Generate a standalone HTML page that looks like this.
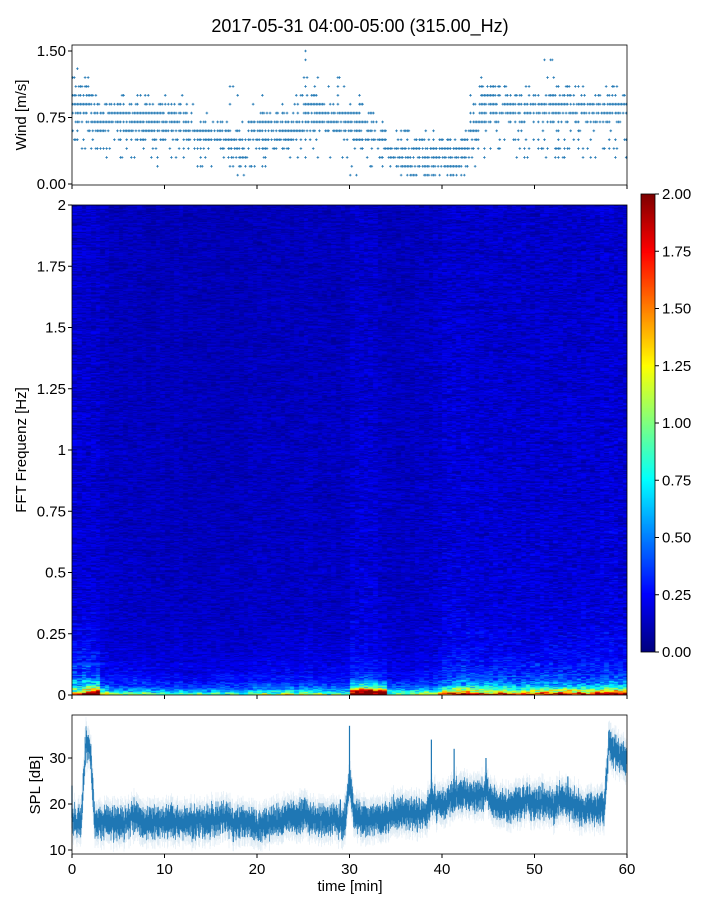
<!DOCTYPE html>
<html><head><meta charset="utf-8"><style>
body{margin:0;background:#fff;width:720px;height:900px;overflow:hidden;font-family:"Liberation Sans",sans-serif}
#wrap{position:relative;width:720px;height:900px}
svg{position:absolute;left:0;top:0}
canvas{position:absolute}
</style></head><body>
<div id="wrap">
<canvas id="spec" width="555" height="490" style="left:72px;top:205px"></canvas>
<canvas id="cbar" width="14" height="458" style="left:641px;top:194px"></canvas>
<svg id="svg" width="720" height="900"></svg>
</div>
<script>
// ---- data ----
const windMean=[0.9,0.9,0.8,0.75,0.75,0.7,0.7,0.7,0.7,0.7,0.7,0.65,0.6,0.55,0.55,0.55,0.5,0.4,0.35,0.55,0.6,0.6,0.6,0.6,0.65,0.8,0.8,0.75,0.75,0.75,0.7,0.65,0.6,0.45,0.35,0.35,0.3,0.3,0.3,0.3,0.3,0.3,0.4,0.6,0.9,0.9,0.95,0.85,0.85,0.85,0.85,0.85,0.8,0.85,0.85,0.85,0.85,0.85,0.85,0.85];
const windHi=[1.3,1.2,1.1,1.0,1.0,1.0,0.9,1.0,1.0,1.0,1.0,1.0,0.9,0.9,0.9,0.8,0.8,1.2,0.7,1.0,1.0,0.8,0.9,0.9,1.0,1.5,1.3,1.3,1.2,1.1,1.0,1.0,0.9,0.7,0.6,0.6,0.6,0.5,0.6,0.6,0.5,0.6,0.7,1.0,1.2,1.2,1.2,1.1,1.2,1.1,1.0,1.5,1.2,1.1,1.1,1.1,1.0,1.1,1.1,1.0];
const windLo=[0.5,0.4,0.3,0.3,0.3,0.3,0.3,0.2,0.3,0.2,0.3,0.3,0.3,0.2,0.2,0.2,0.2,0.1,0.1,0.2,0.2,0.3,0.3,0.3,0.3,0.3,0.3,0.3,0.2,0.3,0.1,0.3,0.2,0.2,0.1,0.1,0.1,0.1,0.1,0.1,0.1,0.1,0.1,0.2,0.3,0.4,0.4,0.4,0.3,0.3,0.4,0.3,0.3,0.3,0.4,0.3,0.3,0.3,0.2,0.3];
// SPL per half minute (t = 0, 0.5, ... 60)
const splMean=[17,15.5,16,33,32,16,16,16,16,16,16,16,16,17,18,16,16,16,16,16,16,16,16.5,16,16,16,16,16,16.5,16,16,16.5,16.5,17,17,16,16,16.5,16,16,15.5,15,15.5,15.5,16,16,16.5,17,17,17,17,18,17,16.5,16.5,17,16.5,16.5,16.5,16,16.5,25,18,17,17,16.5,17,17,16,17,17.5,18,17.5,18,18,18,18,18,18.5,21,20,20,20,21,22,22,22,21.5,22,22,22,23,21,20,19.5,19.5,19.5,20,20,20,21,20,20.5,20.5,20,20,19.5,21,21,20.5,20,19.5,19,19,19,19,19,19,33,31.5,30.5,30,29.5];
const splPeak=[24,19,19,36,35,20,20,19,19,19,19,19,19,20,22,19,19,19,19,19,19,19,19,19,19,19,19,20,19,19,19,19,19,20,20,20,19,19,19,20,19,18,18,18,18,19,19,19,19,21,20,19,20,21,20,19,20,21,20,21,19,37,22,21,21,20,21,20,19,21,21,21,21,21,22,21,22,21,22,34,24,23,23,23,32,26,25,25,25,24,25,30,24,24,23,23,23,24,23,23,25,24,24,24,23,23,23,25,25,26,24,23,23,23,22,22,22,22,37,34,33,32,31];
const lowBand=[1.0,1.6,2.4,1.0,0.7,0.7,0.7,0.8,0.7,0.6,0.6,0.6,0.55,0.6,0.55,0.6,0.6,0.55,0.55,0.7,0.8,0.7,0.7,0.8,0.7,0.8,0.7,0.7,0.6,0.6,2.4,2.6,2.5,2.2,0.7,0.7,0.7,0.75,0.8,0.9,1.3,1.5,1.6,1.3,1.3,1.2,1.3,1.1,1.0,1.2,1.1,1.3,1.2,1.5,1.3,1.2,1.3,1.5,1.9,1.5];
const midBand=[0.5,0.6,0.5,0.25,0.22,0.22,0.22,0.22,0.22,0.2,0.2,0.22,0.2,0.22,0.2,0.22,0.22,0.2,0.2,0.22,0.22,0.22,0.22,0.24,0.22,0.24,0.22,0.22,0.22,0.22,0.3,0.3,0.3,0.28,0.2,0.2,0.2,0.22,0.23,0.25,0.4,0.42,0.45,0.4,0.4,0.38,0.4,0.38,0.35,0.38,0.4,0.4,0.4,0.38,0.4,0.4,0.38,0.4,0.4,0.38];
const bgLevel=[0.15,0.15,0.15,0.13,0.12,0.12,0.12,0.12,0.11,0.12,0.11,0.12,0.11,0.11,0.11,0.11,0.11,0.11,0.11,0.12,0.12,0.12,0.12,0.12,0.12,0.13,0.12,0.12,0.12,0.12,0.15,0.15,0.15,0.13,0.12,0.12,0.12,0.13,0.13,0.14,0.16,0.16,0.16,0.15,0.15,0.15,0.15,0.15,0.15,0.15,0.15,0.15,0.15,0.15,0.15,0.15,0.15,0.16,0.16,0.15];
const timeTicks=[0,10,20,30,40,50,60];
const windTicks=[0,0.75,1.5], windTickLabels=["0.00","0.75","1.50"];
const freqTicks=[0,0.25,0.5,0.75,1,1.25,1.5,1.75,2], freqTickLabels=["0","0.25","0.5","0.75","1","1.25","1.5","1.75","2"];
const splTicks=[10,20,30], cbTicks=[0,0.25,0.5,0.75,1,1.25,1.5,1.75,2];

const NS="http://www.w3.org/2000/svg", svg=document.getElementById('svg');
function el(tag,attrs,parent){const e=document.createElementNS(NS,tag);for(const k in attrs)e.setAttribute(k,attrs[k]);(parent||svg).appendChild(e);return e;}
function txt(s,x,y,anchor,size,name,parent,rot){const t=el('text',{x:x,y:y,'text-anchor':anchor,'font-size':size,fill:'#000','font-family':'Liberation Sans, sans-serif'},parent);if(rot)t.setAttribute('transform','rotate(-90 '+x+' '+y+')');t.textContent=s;return t;}
const X0=72,X1=627;
const xs=t=>X0+(t/60)*(X1-X0);
const wy=v=>184-(v/1.5)*133;
const spy=f=>695-(f/2)*490;
const sy=v=>850-(v-10)*4.6;
const cy=v=>652-(v/2)*458;
function hash(a,b){let h=(a*374761393+b*668265263)|0;h=(h^(h>>>13))*1274126177|0;return ((h^(h>>>16))>>>0)/4294967296;}

txt("2017-05-31 04:00-05:00 (315.00_Hz)",360,32,'middle',18,'chart-title');

// ---- wind panel ----
const gw=el('g',{});
for(let m=0;m<60;m++){
  for(let s=0;s<6;s++){
    const t=m+s/6+0.08;
    for(let l=1;l<=15;l++){
      const v=l/10;
      if(v<windLo[m]-0.001||v>windHi[m]+0.001)continue;
      const d=Math.abs(v-windMean[m]);
      const h=hash(m*7+s,l);
      const p0=d<0.12?0.8:d<0.22?0.5:0.18;
      if(h>p0)continue;
      const x=xs(t),y=wy(v);
      const p=el('path',{d:`M${x-1.3} ${y}h2.6M${x} ${y-1.3}v2.6`,stroke:'#1f77b4','stroke-width':0.8},gw);
      
    }
  }
}
el('rect',{x:X0,y:45,width:X1-X0,height:140,fill:'none',stroke:'#000','stroke-width':0.8});
windTicks.forEach((v,i)=>{el('line',{x1:X0-4,x2:X0,y1:wy(v),y2:wy(v),stroke:'#000'});txt(windTickLabels[i],X0-6,wy(v)+5,'end',15,'wind-y-tick');});
timeTicks.forEach(t=>el('line',{x1:xs(t),x2:xs(t),y1:185,y2:189,stroke:'#000'}));
txt("Wind [m/s]",26,115,'middle',15,'wind-y-axis-title',null,true);

// ---- spectrogram ----
function jet(v){v=Math.max(0,Math.min(1,v));const r=Math.max(0,Math.min(1,1.5-Math.abs(4*v-3))),g=Math.max(0,Math.min(1,1.5-Math.abs(4*v-2))),b=Math.max(0,Math.min(1,1.5-Math.abs(4*v-1)));return [r*255|0,g*255|0,b*255|0];}
(function(){
  const c=document.getElementById('spec').getContext('2d');const W=555,H=490;const img=c.createImageData(W,H);
  const nRows=490;
  for(let y=0;y<H;y++){
    const f=(H-1-y)/H*2;const row=Math.floor(f/2*nRows);
    for(let x=0;x<W;x++){
      const t=x/W*60;const m=Math.min(59,Math.floor(t));const seg=Math.floor(t*2);
      const n=hash(row,seg)*1.1+hash(row,Math.floor(x/18))*0.5+0.25;
      let v=bgLevel[m]*n*(1.1-0.2*f/2)+lowBand[m]*Math.exp(-f/0.02)*(0.6+0.8*hash(row,seg+7))+midBand[m]*Math.exp(-f/0.1)*(0.3+hash(row,seg+3)*1.2);
      const col=jet(v/2);const i=(y*W+x)*4;img.data[i]=col[0];img.data[i+1]=col[1];img.data[i+2]=col[2];img.data[i+3]=255;
    }
  }
  c.putImageData(img,0,0);
  const cb=document.getElementById('cbar').getContext('2d');
  for(let y=0;y<458;y++){const col=jet(1-y/457);cb.fillStyle=`rgb(${col[0]},${col[1]},${col[2]})`;cb.fillRect(0,y,14,1);}
})();
el('rect',{x:X0,y:205,width:X1-X0,height:490,fill:'none',stroke:'#000','stroke-width':0.8});
freqTicks.forEach((f,i)=>{el('line',{x1:X0-4,x2:X0,y1:spy(f),y2:spy(f),stroke:'#000'});txt(freqTickLabels[i],X0-6,spy(f)+5,'end',15,'freq-y-tick');});
timeTicks.forEach(t=>el('line',{x1:xs(t),x2:xs(t),y1:695,y2:699,stroke:'#000'}));
txt("FFT Frequenz [Hz]",26,450,'middle',15,'freq-y-axis-title',null,true);
el('rect',{x:641,y:194,width:14,height:458,fill:'none',stroke:'#000','stroke-width':0.8});
cbTicks.forEach(v=>{el('line',{x1:655,x2:659,y1:cy(v),y2:cy(v),stroke:'#000'});txt(v.toFixed(2),662,cy(v)+5,'start',15,'colorbar-tick');});

// ---- SPL panel ----
const gs=el('g',{});
const N=splMean.length;
const ti=i=>i*60/(N-1);
function splAt(t){const p=t/60*(N-1);const i=Math.min(N-2,Math.floor(p));const a=p-i;return splMean[i]*(1-a)+splMean[i+1]*a;}
let dLight='',dDark='';
for(let px=0;px<(X1-X0)*2;px++){
  const t=px/((X1-X0)*2)*60;const m=splAt(t);const x=(X0+px/2).toFixed(1);
  const o=(hash(px,3)-0.5)*2;
  const h1=1.3+hash(px,5)*2.2,h2=1.3+hash(px,9)*2.2;
  dLight+=`M${x} ${sy(m+o+h1+2).toFixed(1)}V${sy(m+o-h2-2).toFixed(1)}`;
  dDark+=`M${x} ${sy(m+o+h1).toFixed(1)}V${sy(m+o-h2).toFixed(1)}`;
}
const b1=el('path',{d:dLight,stroke:'#1f77b4','stroke-opacity':0.15,'stroke-width':0.6,fill:'none'},gs);
const b2=el('path',{d:dDark,stroke:'#1f77b4','stroke-opacity':1,'stroke-width':0.7,fill:'none'},gs);
splMean.forEach((v,i)=>{if(splPeak[i]-v<5)return;const l=el('line',{x1:xs(ti(i)),x2:xs(ti(i)),y1:sy(splPeak[i]),y2:sy(v),stroke:'#1f77b4','stroke-width':1.2},gs);});
el('rect',{x:X0,y:715,width:X1-X0,height:139,fill:'none',stroke:'#000','stroke-width':0.8});
splTicks.forEach(v=>{el('line',{x1:X0-4,x2:X0,y1:sy(v),y2:sy(v),stroke:'#000'});txt(String(v),X0-6,sy(v)+5,'end',15,'spl-y-tick');});
timeTicks.forEach(t=>{el('line',{x1:xs(t),x2:xs(t),y1:854,y2:858,stroke:'#000'});txt(String(t),xs(t),874,'middle',15,'time-x-tick');});
txt("time [min]",350,891,'middle',15,'x-axis-title');
txt("SPL [dB]",40,785,'middle',15,'spl-y-axis-title',null,true);
</script>
</body></html>
